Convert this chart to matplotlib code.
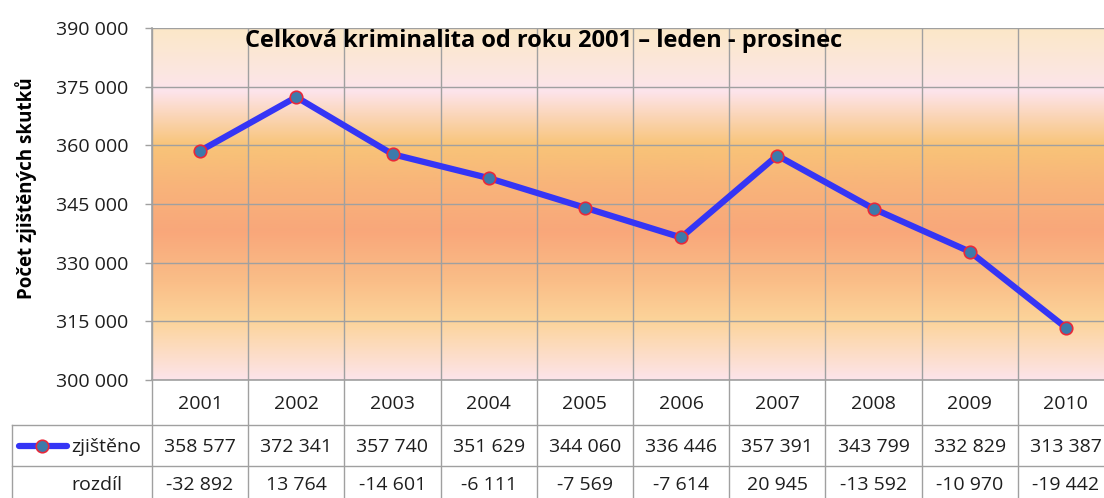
import matplotlib
matplotlib.use("Agg")
import matplotlib.pyplot as plt
import numpy as np
from matplotlib.colors import LinearSegmentedColormap
from matplotlib.transforms import blended_transform_factory

plt.rcParams['font.family'] = ['Open Sans', 'DejaVu Sans']

years = ['2001', '2002', '2003', '2004', '2005', '2006', '2007', '2008', '2009', '2010']
zjisteno = [358577, 372341, 357740, 351629, 344060, 336446, 357391, 343799, 332829, 313387]
rozdil = [-32892, 13764, -14601, -6111, -7569, -7614, 20945, -13592, -10970, -19442]
yticks = [300000, 315000, 330000, 345000, 360000, 375000, 390000]

title = 'Celková kriminalita od roku 2001 – leden - prosinec'
ylabel = 'Počet zjištěných skutků'
series_name = 'zjištěno'
diff_name = 'rozdíl'


def fmt(v):
    s = f"{abs(v):,}".replace(',', ' ')
    return ('-' if v < 0 else '') + s


W, H = 1104, 498
fig = plt.figure(figsize=(W / 100, H / 100), dpi=100)
fig.patch.set_facecolor('white')

L, R, T, B = 152, 1114, 28, 380
ax = fig.add_axes([L / W, (H - B) / H, (R - L) / W, (B - T) / H])
ymin, ymax = 300000, 390000
n = len(years)
ax.set_xlim(-0.5, n - 0.5)
ax.set_ylim(ymin, ymax)

# gradient background
stops = [(300000, '#FDE4EA'), (315000, '#FCD49A'), (325000, '#FABE88'),
         (338000, '#F9A77A'), (350000, '#F8B47A'), (360000, '#F8C478'),
         (374000, '#FDE4EC'), (378000, '#FCE6E2'), (390000, '#FBE8C8')]
cmap = LinearSegmentedColormap.from_list(
    'bg', [((v - ymin) / (ymax - ymin), c) for v, c in stops])
grad = np.linspace(0, 1, 512).reshape(-1, 1)
ax.imshow(grad, extent=[-0.5, n - 0.5, ymin, ymax], aspect='auto',
          origin='lower', cmap=cmap, zorder=0)

grid_c = '#A0A0A0'
txt_c = '#1E1E1E'
fs = 14
ax.set_yticks(yticks)
ax.set_yticklabels([fmt(v) for v in yticks], fontsize=fs, color=txt_c)
for v in yticks:
    ax.axhline(v, color=grid_c, lw=1.0, zorder=1)
ax.set_xticks([])
for i in range(n + 1):
    ax.axvline(i - 0.5, color=grid_c, lw=1.0, zorder=1)
for s in ['top', 'right']:
    ax.spines[s].set_visible(False)
for s in ['left', 'bottom']:
    ax.spines[s].set_color(grid_c)
    ax.spines[s].set_linewidth(1.2)
ax.tick_params(axis='y', length=5, width=1, color=grid_c, pad=12)

xs = np.arange(n)
ax.plot(xs, zjisteno, color='#3535F5', lw=4.5, zorder=3, solid_capstyle='round',
        marker='o', markersize=9, markerfacecolor='#3D7AAA',
        markeredgecolor='#E8283A', markeredgewidth=1.2)

ax.set_ylabel(ylabel, fontsize=13.5, fontweight='bold', color='black')
ax.yaxis.set_label_coords(-115 / (R - L), 0.544)
fig.text(245 / W, (H - 41) / H, title, fontsize=17, fontweight='bold',
         va='center', ha='left', color='black')

# table axes in image pixel coords (y)
axt = fig.add_axes([0, 0, R / W, (H - B) / H])
axt.set_xlim(0, R)
axt.set_ylim(H, B)
axt.axis('off')
tr = blended_transform_factory(ax.transData, axt.transData)

r1, r2, r3 = 425, 466, 498
for i in range(n + 1):
    axt.plot([i - 0.5, i - 0.5], [B, H + 5], transform=tr, color=grid_c, lw=1.0, clip_on=False)
axt.plot([12, R], [r1, r1], color=grid_c, lw=1.0)
axt.plot([12, R], [r2, r2], color=grid_c, lw=1.0)
axt.plot([12, 12], [r1, H + 5], color=grid_c, lw=1.0, clip_on=False)

for i in range(n):
    axt.text(i, (B + r1) / 2 + 1, years[i], transform=tr, ha='center', va='center', fontsize=fs, color=txt_c)
    axt.text(i, (r1 + r2) / 2 + 1, fmt(zjisteno[i]), transform=tr, ha='center', va='center', fontsize=fs, color=txt_c)
    axt.text(i, (r2 + r3) / 2 + 3, fmt(rozdil[i]), transform=tr, ha='center', va='center', fontsize=fs, color=txt_c)

ly = (r1 + r2) / 2
axt.plot([19, 67], [ly, ly], color='#3535F5', lw=4.5, solid_capstyle='round')
axt.plot([42], [ly], marker='o', markersize=9, markerfacecolor='#3D7AAA',
         markeredgecolor='#E8283A', markeredgewidth=1.2)
axt.text(71, ly + 1, series_name, ha='left', va='center', fontsize=fs, color=txt_c)
axt.text(97, (r2 + r3) / 2 + 3, diff_name, ha='center', va='center', fontsize=fs, color=txt_c)

fig.savefig('out.png', dpi=100)
